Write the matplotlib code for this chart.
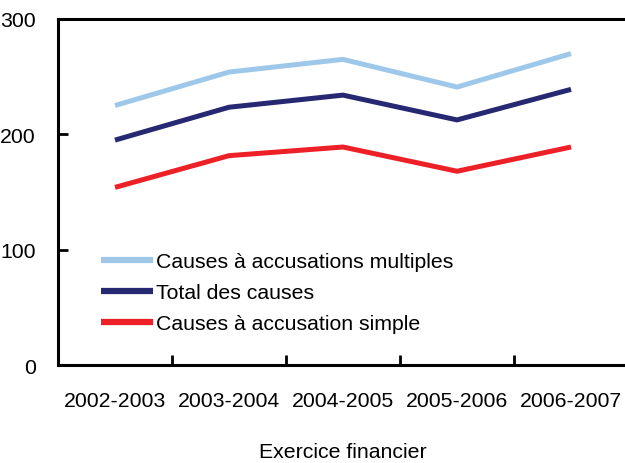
import matplotlib
matplotlib.use("Agg")
import matplotlib.pyplot as plt

plt.rcParams['font.family'] = ['Liberation Sans', 'DejaVu Sans']

categories = ["2002-2003", "2003-2004", "2004-2005", "2005-2006", "2006-2007"]
multiples = [225, 254, 265, 241, 270]
total = [195, 223.5, 234, 212.5, 239]
simple = [154, 181.5, 189, 168, 189]
yticks = [0, 100, 200, 300]

W, H = 625, 464
FS = 15.3
fig = plt.figure(figsize=(W/100, H/100), dpi=100)
ax = fig.add_axes([58/W, 1 - 366/H, 570/W, 346/H])

x = list(range(len(categories)))
ax.plot(x, multiples, color='#9DC8EA', lw=3.6, label='Causes à accusations multiples', solid_capstyle='butt')
ax.plot(x, total, color='#262872', lw=3.6, label='Total des causes', solid_capstyle='butt')
ax.plot(x, simple, color='#EE2027', lw=3.6, label='Causes à accusation simple', solid_capstyle='butt')

ax.set_xlim(-0.5, 4.5)
ax.set_ylim(0, 300)
ax.set_yticks(yticks)
ax.set_yticklabels([str(v) for v in yticks], fontsize=FS)
ax.set_xticks([i + 0.5 for i in range(len(categories) - 1)])
ax.set_xticklabels([])
ax.set_xticks(x, minor=True)
ax.set_xticklabels(categories, minor=True, fontsize=FS)
ax.tick_params(axis='x', which='minor', length=0, pad=19)
ax.tick_params(axis='x', which='major', direction='in', length=7, width=2)
ax.tick_params(axis='y', direction='in', length=7, width=2, pad=16)
for s in ax.spines.values():
    s.set_linewidth(2.2)

ax.set_xlabel('Exercice financier', fontsize=FS, labelpad=23)

leg = ax.legend(loc='upper left', bbox_to_anchor=(101/W, 1 - 253/H), bbox_transform=fig.transFigure,
                frameon=False, fontsize=FS, handlelength=2.45, handletextpad=0.15,
                labelspacing=0.57, borderpad=0, borderaxespad=0)
for h in leg.get_lines():
    h.set_linewidth(4.5)

fig.savefig('out.png', dpi=100)
